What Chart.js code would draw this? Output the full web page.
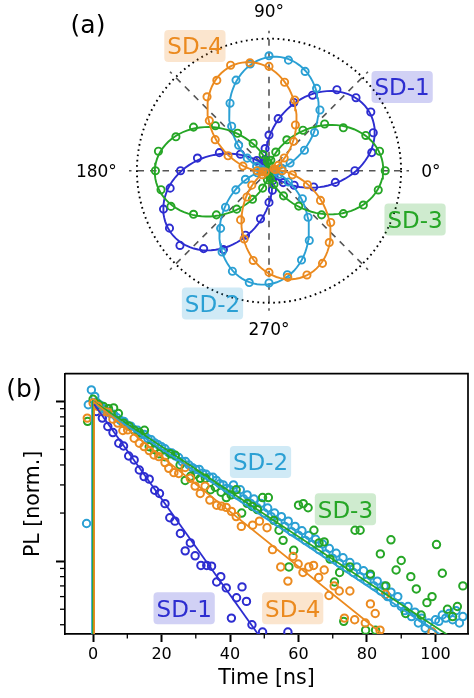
<!DOCTYPE html>
<html><head><meta charset="utf-8">
<script src="https://cdn.jsdelivr.net/npm/chart.js@4.4.1/dist/chart.umd.min.js"></script>
<style>
html,body{margin:0;padding:0;background:#fff;width:474px;height:698px;overflow:hidden;}
canvas{position:absolute;left:0;}
#cA{top:0;} #cB{top:340px;}
</style></head><body>
<canvas id="cA" width="474" height="340"></canvas>
<canvas id="cB" width="474" height="358"></canvas>
<script>
// ================= DATA: panel (a) polarization =================
const seriesNames = ['SD-1','SD-2','SD-3','SD-4'];
const polarAngles = [0,10,20,30,40,50,60,70,80,90,100,110,120,130,140,150,160,170,180,190,200,210,220,230,240,250,260,270,280,290,300,310,320,330,340,350];
const sd1R = [.65,.79,.84,.89,.86,.80,.66,.55,.40,.27,.17,.09,.05,.07,.12,.25,.40,.55,.67,.76,.85,.87,.88,.77,.69,.52,.37,.24,.15,.08,.04,.06,.14,.22,.36,.51];
const sd2R = [.05,.10,.17,.31,.45,.60,.72,.80,.85,.87,.82,.73,.59,.44,.30,.19,.10,.06,.04,.09,.19,.29,.43,.57,.71,.81,.86,.85,.80,.72,.61,.46,.33,.17,.08,.05];
const sd3R = [.88,.85,.78,.65,.55,.40,.27,.15,.08,.05,.07,.13,.24,.37,.53,.66,.75,.85,.86,.83,.79,.66,.52,.38,.25,.14,.07,.04,.06,.11,.22,.35,.52,.65,.76,.84];
const sd4R = [.10,.05,.04,.08,.15,.29,.40,.57,.68,.79,.83,.85,.79,.73,.59,.47,.33,.20,.09,.05,.03,.06,.17,.26,.43,.55,.69,.77,.82,.84,.81,.71,.61,.45,.31,.18];
// cos^2 fit parameters: r = amp*cos^2(theta - theta0) + offset
const fitTheta0 = [30.5, 85.5, 1, 106.5];
const fitAmp    = [0.85, 0.835, 0.835, 0.815];
const fitOffset = [0.03, 0.03, 0.03, 0.03];
const angleTickValues = [0, 90, 180, 270];
const angleTickLabels = ['0°', '90°', '180°', '270°'];
const spokeAngles = [0,45,90,135,180,225,270,315];
const gridRadius = 1.0;
const rMax = 1.06;

// ================= DATA: panel (b) PL decay =================
const sd1Time = [0.96,2.7,4.3,5.8,7.5,8.9,10.4,12.0,13.5,14.9,16.4,18.0,19.4,21.0,22.4,23.9,25.5,26.9,28.4,29.8,31.5,33.2,34.6,36.1,37.3,38.9,40.4,41.9,43.5,44.8,46.4,49.5,56.9];
const sd1PL   = [.865,.786,.696,.638,.547,.526,.455,.430,.372,.338,.326,.278,.265,.229,.187,.178,.149,.116,.130,.108,.094,.094,.093,.074,.080,.068,.044,.059,.069,.056,.040,.036,.036];

const sd2Time = [-1.9,-1.4,-0.5,0.5,1,2,3,4,5,6,7,8,9,10,11,12,13,14,15,16,17,18,19,20,21,22,23,24,25,26,27,28,29,30,31,32,33,34,35,36,37,38,39,40,41,42,43,44,45,46,47,48,49,50,51,52,53,54,55,56,57,58,59,60,61,62,63,64,65,66,67,68,69,70,71,72,73,74,75,76,77,78,79,80,81,82,83,84,85,86,87,88,89,90,91,92,93,94,95,96,97,98,99,100,101,102,103,104,105,106,107,108];
const sd2PL   = [.172,.953,1.18,1.075,.99,.95,.90,.87,.84,.83,.79,.76,.75,.71,.70,.665,.66,.62,.62,.585,.575,.55,.535,.52,.505,.48,.475,.455,.445,.42,.42,.40,.385,.375,.375,.355,.35,.335,.335,.32,.305,.30,.285,
  .28,.30,.26,.28,.245,.26,.23,.245,.215,.23,.20,.215,.19,.20,.175,.19,.165,.178,.153,.165,.145,.155,.135,.145,.127,.137,.118,.128,.111,.12,.104,.112,.097,.105,.091,.098,.085,.092,.080,.087,.075,.081,.07,.075,.065,.07,.06,.064,.055,.06,.052,
  .049,.052,.045,.048,.041,.044,.038,.041,.036,.043,.042,.046,.044,.047,.043,.049,.041,.045];

const sd3Time = [-1.6,0,1.5,3,4.5,6,7.4,9,10.5,12,13.5,15,16.4,17.8,19.2,21,22.6,24,25.4,26.9,28.5,30,31.3,32.8,34.3,35.7,37.4,38.9,40.3,41.8,43.4,45,46.5,48,49.5,51.2,52.8,54.3,55.5,57.2,58.6,60,61.4,62.8,64.5,66,67.5,69.2,70.5,72,73.2,75,76.5,78,79.6,81,82.5,83.9,85.5,87,88.5,90,91.3,92.8,94.4,95.8,97.5,99,100.3,102,103.5,105,106.4,108];
const sd3PL   = [.75,1.03,.96,.93,.90,.91,.84,.73,.70,.66,.64,.66,.52,.50,.47,.45,.47,.46,.40,.32,.34,.35,.33,.33,.28,.29,.27,.25,.26,.28,.20,.23,.22,.21,.25,.25,.18,.156,.135,.092,.117,.224,.229,.216,.156,.13,.132,.103,.074,.085,.042,.092,.156,.156,.037,.083,.037,.111,.07,.136,.088,.101,.047,.080,.067,.046,.055,.06,.127,.084,.05,.045,.052,.070];

const sd4Time = [-1.7,0,1.4,2.9,4.3,5.8,7.2,8.7,10.1,12.0,13.5,14.9,16.4,17.8,19.2,21.0,22.1,23.6,25.0,26.9,28.4,29.8,31.3,32.7,34.1,36.1,37.5,38.9,40.4,41.8,43.3,46.6,48.6,50.8,52.4,54.8,56.9,58.4,59.9,61.3,63.0,64.4,65.9,67.5,68.9,70.4,71.9,73.4,75.0,76.4,79.5,81.0,82.4,83.8,85.4,99.0];
const sd4PL   = [.786,.976,.930,.865,.857,.774,.731,.657,.663,.588,.547,.521,.492,.462,.451,.414,.381,.358,.354,.386,.330,.295,.265,.295,.241,.224,.221,.217,.205,.19,.165,.168,.178,.162,.118,.092,.075,.107,.096,.085,.092,.094,.079,.088,.061,.070,.065,.044,.065,.043,.041,.054,.047,.037,.062,.036];

// exponential fit lines (start / end points)
const sd1FitTime = [0.3, 52];        const sd1FitPL = [0.96, 0.0268];
const sd2FitTime = [-0.3, -0.3, 110]; const sd2FitPL = [0.02, 0.98, 0.0262];
const sd3FitTime = [0, 0, 110];       const sd3FitPL = [0.02, 1.0, 0.028];
const sd4FitTime = [0.3, 0.3, 90];    const sd4FitPL = [0.02, 0.985, 0.0281];

const xMajorTicks = [0,20,40,60,80,100];
const xMinorTicks = [10,30,50,70,90,110];
const yMajorTicks = [0.1, 1];
const yMinorTicks = [0.04,0.05,0.06,0.07,0.08,0.09,0.2,0.3,0.4,0.5,0.6,0.7,0.8,0.9];

// ================= STYLE =================
const FONT = '"DejaVu Sans", sans-serif';
const colors  = ['#2d2dd0','#2ba0d4','#26a626','#eb8a1f'];
const boxBg   = ['rgba(45,45,208,0.22)','rgba(43,160,212,0.22)','rgba(38,166,38,0.22)','rgba(235,138,31,0.22)'];
const polarBoxes = [ // series index, anchor in data coords
  {s:0, x:1.008, y:0.634}, {s:1, x:-0.428, y:-1.006}, {s:2, x:1.106, y:-0.370}, {s:3, x:-0.561, y:0.945}];
const decayBoxes = [
  {s:0, x:26.6, y:0.0508}, {s:1, x:48.9, y:0.418}, {s:2, x:73.7, y:0.2113}, {s:3, x:58.3, y:0.0508}];

function drawBox(ctx, px, py, s) {
  const size = 23;
  ctx.font = size + 'px ' + FONT;
  const w = ctx.measureText(seriesNames[s]).width + 6, h = 32;
  ctx.fillStyle = boxBg[s];
  ctx.beginPath();
  ctx.roundRect(px - w/2, py - h/2, w, h, 4);
  ctx.fill();
  ctx.fillStyle = colors[s];
  ctx.textAlign = 'center';
  ctx.textBaseline = 'alphabetic';
  ctx.fillText(seriesNames[s], px, py + 0.729*size/2);
}

// ================= PANEL (a) =================
const polarR = [sd1R, sd2R, sd3R, sd4R];
const toXY = (deg, r) => ({x: r*Math.cos(deg*Math.PI/180), y: r*Math.sin(deg*Math.PI/180)});
function fitCurve(i) {
  const pts = [];
  for (let a = 0; a <= 360; a += 2) {
    const d = (a - fitTheta0[i]) * Math.PI/180;
    pts.push(toXY(a, fitAmp[i]*Math.cos(d)**2 + fitOffset[i]));
  }
  return pts;
}
const polarSets = [];
for (const i of [3,2,1,0]) {
  polarSets.push({data: polarAngles.map((a,k)=>toXY(a, polarR[i][k])), showLine:false,
    pointRadius:3.6, pointBorderWidth:1.9, pointBorderColor:colors[i], pointBackgroundColor:'rgba(0,0,0,0)'});
  polarSets.push({data: fitCurve(i), showLine:true, pointRadius:0, borderColor:colors[i], borderWidth:1.9, tension:0, fill:false});
}

const polarGrid = {
  id:'polarGrid',
  beforeDatasetsDraw(chart) {
    const {ctx, scales:{x, y}} = chart;
    const cx = x.getPixelForValue(0), cy = y.getPixelForValue(0);
    const unit = x.getPixelForValue(1) - cx;
    ctx.save();
    ctx.strokeStyle = '#555'; ctx.lineWidth = 1.6; ctx.setLineDash([6.5,6]);
    for (const a of spokeAngles) {
      const p = toXY(a, rMax);
      ctx.beginPath(); ctx.moveTo(cx, cy);
      ctx.lineTo(x.getPixelForValue(p.x), y.getPixelForValue(p.y)); ctx.stroke();
    }
    ctx.strokeStyle = '#000'; ctx.lineWidth = 1.9; ctx.setLineDash([1.7,3.6]);
    ctx.beginPath(); ctx.arc(cx, cy, unit*gridRadius, 0, 2*Math.PI); ctx.stroke();
    ctx.restore();
  },
  afterDraw(chart) {
    const {ctx, scales:{x, y}} = chart;
    const cx = x.getPixelForValue(0), cy = y.getPixelForValue(0);
    const unit = x.getPixelForValue(1) - cx;
    ctx.save();
    const fs = 17;
    ctx.font = fs + 'px ' + FONT; ctx.fillStyle = '#000'; ctx.textBaseline = 'alphabetic';
    const capH = 0.729*fs, rl = 1.152;
    angleTickValues.forEach((a, k) => {
      const t = angleTickLabels[k];
      if (a === 0)   { ctx.textAlign='left';   ctx.fillText(t, cx + rl*unit, cy + capH/2); }
      if (a === 180) { ctx.textAlign='right';  ctx.fillText(t, cx - rl*unit, cy + capH/2); }
      if (a === 90)  { ctx.textAlign='center'; ctx.fillText(t, cx, cy - 1.167*unit); }
      if (a === 270) { ctx.textAlign='center'; ctx.fillText(t, cx, cy + rl*unit + capH); }
    });
    for (const b of polarBoxes) drawBox(ctx, x.getPixelForValue(b.x), y.getPixelForValue(b.y), b.s);
    ctx.font = '25px ' + FONT; ctx.fillStyle = '#000'; ctx.textAlign = 'center';
    ctx.fillText('(a)', 88, 33);
    ctx.restore();
  }
};

new Chart(document.getElementById('cA'), {
  type:'scatter',
  data:{datasets: polarSets},
  options:{
    responsive:false, animation:false, devicePixelRatio:1, events:[],
    layout:{padding:{left:129, right:65, top:30.7, bottom:29.3}},
    scales:{
      x:{type:'linear', min:-rMax, max:rMax, display:false},
      y:{type:'linear', min:-rMax, max:rMax, display:false}
    },
    plugins:{legend:{display:false}, tooltip:{enabled:false}}
  },
  plugins:[polarGrid]
});

// ================= PANEL (b) =================
const pts = (ts, vs) => ts.map((t,i)=>({x:t, y:vs[i]}));
const lineSet = (ts, vs, c) => ({data:pts(ts,vs), showLine:true, pointRadius:0, borderColor:c, borderWidth:1.8, tension:0, fill:false});
const markSet = (ts, vs, c) => ({data:pts(ts,vs), showLine:false, pointRadius:3.7, pointBorderWidth:2, pointBorderColor:c, pointBackgroundColor:'rgba(0,0,0,0)'});

const decayPlugin = {
  id:'decayDeco',
  afterDatasetsDraw(chart) {
    const {ctx, scales:{x, y}} = chart;
    ctx.save();
    for (const b of decayBoxes) drawBox(ctx, x.getPixelForValue(b.x), y.getPixelForValue(b.y), b.s);
    ctx.restore();
  },
  afterDraw(chart) {
    const {ctx, chartArea:a, scales:{x, y}} = chart;
    ctx.save();
    ctx.strokeStyle = '#000'; ctx.lineWidth = 1.3;
    for (const v of xMinorTicks) {
      const px = x.getPixelForValue(v); if (px < a.left || px > a.right) continue;
      ctx.beginPath(); ctx.moveTo(px, a.bottom); ctx.lineTo(px, a.bottom + 4.5); ctx.stroke();
    }
    for (const v of yMinorTicks) {
      const py = y.getPixelForValue(v); if (py < a.top || py > a.bottom) continue;
      ctx.beginPath(); ctx.moveTo(a.left, py); ctx.lineTo(a.left - 5, py); ctx.stroke();
    }
    ctx.lineWidth = 1.7;
    ctx.beginPath(); ctx.moveTo(a.left, a.top); ctx.lineTo(a.right, a.top); ctx.lineTo(a.right, a.bottom); ctx.stroke();
    ctx.font = '25px ' + FONT; ctx.fillStyle = '#000'; ctx.textAlign = 'center'; ctx.textBaseline='alphabetic';
    ctx.fillText('(b)', 24, 57);
    ctx.restore();
  }
};

new Chart(document.getElementById('cB'), {
  type:'scatter',
  data:{datasets:[
    lineSet(sd1FitTime, sd1FitPL, colors[0]),
    lineSet(sd4FitTime, sd4FitPL, colors[3]),
    lineSet(sd3FitTime, sd3FitPL, colors[2]),
    lineSet(sd2FitTime, sd2FitPL, colors[1]),
    markSet(sd4Time, sd4PL, colors[3]),
    markSet(sd3Time, sd3PL, colors[2]),
    markSet(sd2Time, sd2PL, colors[1]),
    markSet(sd1Time, sd1PL, colors[0])
  ]},
  options:{
    responsive:false, animation:false, devicePixelRatio:1, events:[],
    layout:{padding:{left:0, right:1, top:33.7, bottom:0}},
    scales:{
      x:{type:'linear', min:-8.2, max:109.5, position:'bottom', z:1,
        afterFit:s=>{ s.height = 64; },
        afterBuildTicks:s=>{ s.ticks = xMajorTicks.map(v=>({value:v})); },
        grid:{display:true, drawOnChartArea:false, drawTicks:true, tickLength:8, tickWidth:2, tickColor:'#000'},
        border:{display:true, color:'#000', width:1.7},
        ticks:{color:'#000', font:{family:'DejaVu Sans', size:16}, padding:3, maxRotation:0, autoSkip:false},
        title:{display:true, text:'Time [ns]', color:'#000', font:{family:'DejaVu Sans', size:20.5}, padding:{top:0, bottom:6.7}}
      },
      y:{type:'logarithmic', min:0.035, max:1.49, position:'left', z:1,
        afterFit:s=>{ s.width = 65; },
        afterBuildTicks:s=>{ s.ticks = yMajorTicks.map(v=>({value:v})); },
        grid:{display:true, drawOnChartArea:false, drawTicks:true, tickLength:9, tickWidth:2, tickColor:'#000'},
        border:{display:true, color:'#000', width:1.7},
        ticks:{display:false},
        title:{display:true, text:'PL [norm.]', color:'#000', font:{family:'DejaVu Sans', size:20.5}, padding:{top:21.7, bottom:0}}
      }
    },
    plugins:{legend:{display:false}, tooltip:{enabled:false}}
  },
  plugins:[decayPlugin]
});
</script></body></html>
